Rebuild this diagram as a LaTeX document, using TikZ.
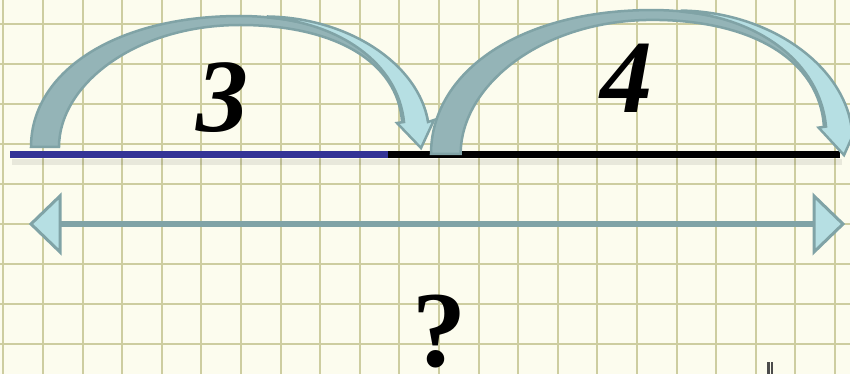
\documentclass[tikz,border=0pt]{standalone}
\usepackage{fontspec}
\setmainfont{Liberation Serif}
\definecolor{paper}{RGB}{252,252,238}
\definecolor{gridc}{RGB}{205,205,160}
\definecolor{edgec}{RGB}{128,163,166}
\definecolor{darkc}{RGB}{148,180,183}
\definecolor{lightc}{RGB}{182,223,227}
\definecolor{bluec}{RGB}{51,51,150}
\tikzset{
  gridline/.style={draw=gridc, line width=2pt},
  outl/.style={draw=edgec, line width=2.5pt, line join=miter},
  backface/.style={outl, fill=darkc},
  frontface/.style={outl, fill=lightc},
  numline/.style={line width=7pt},
  shaft/.style={draw=edgec, line width=6pt},
  headtri/.style={outl, line width=3pt, fill=lightc},
  bignum/.style={inner sep=0pt, font=\fontsize{104}{104}\selectfont\bfseries\itshape},
  qmark/.style={inner sep=0pt, anchor=base, font=\fontsize{108}{108}\selectfont\bfseries},
}
\newcommand\jumpshape{%
  \path[backface] (31,147) .. controls (31,72) and (115,16) .. (240,16)
     .. controls (335,16) and (418,62) .. (428,122) -- (402,122)
     .. controls (398,62) and (335,25) .. (240,25)
     .. controls (135,25) and (59,85) .. (59,147) -- cycle;
  \path[frontface] (268,16.5) .. controls (350,18) and (419,65) .. (428,122)
     -- (434,120) -- (421,148) -- (397,123) -- (404,122)
     .. controls (398,62) and (338,23) .. (268,17.5) -- cycle;
}
\begin{document}
\begin{tikzpicture}[x=1pt,y=-1pt]
  \useasboundingbox (0,0) rectangle (850,374);
  \fill[paper] (0,0) rectangle (850,374);
  % grid
  \foreach \k in {0,...,21} \draw[gridline] ({3.3+39.6*\k},0) -- ({3.3+39.6*\k},374);
  \foreach \k in {0,...,8} \draw[gridline] (0,{24+40*\k}) -- (850,{24+40*\k});
  % number line with soft shadow
  \draw[line width=6pt, black, opacity=0.08] (12,162) -- (842,162);
  \coordinate (a0) at (10,154.5);
  \coordinate (a1) at (388,154.5);
  \coordinate (a2) at (840,154.5);
  \draw[numline, bluec] (a0) -- (a1);
  \draw[numline, black] (a1) -- (a2);
  % jump 3
  \jumpshape
  % jump 4
  \begin{scope}[shift={(431,154)}, xscale=1.059, yscale=1.099, shift={(-31,-147)}]
    \jumpshape
  \end{scope}
  % labels
  \node[bignum] (n3) at (222,98) {3};
  \node[bignum] (n4) at (626,78) {4};
  % double arrow
  \coordinate (l) at (60,224);
  \coordinate (r) at (814,224);
  \draw[shaft] (l) -- (r);
  \path[headtri] (31,224) -- (60,196) -- (60,252) -- cycle;
  \path[headtri] (843,224) -- (814,196) -- (814,252) -- cycle;
  \node[qmark] (q) at (439,366) {?};
  % small mark at bottom right
  \fill[black!70] (767,362) rectangle (769.5,374);
  \fill[black!70] (770.5,362) rectangle (773,374);
\end{tikzpicture}
\end{document}
